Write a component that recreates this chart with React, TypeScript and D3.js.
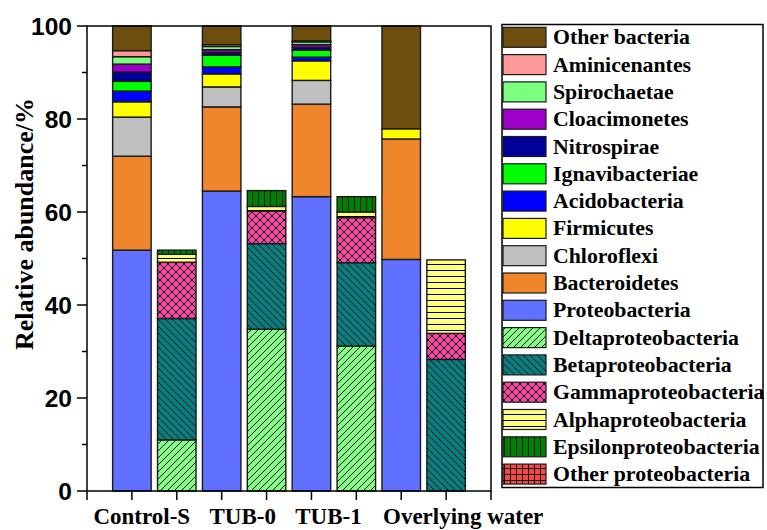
import React from "react";
import * as d3 from "d3";

const groups = ["Control-S", "TUB-0", "TUB-1", "Overlying water"];

// phylum-level composition (bottom to top of stack)
const phyla = [
  "Proteobacteria", "Bacteroidetes", "Chloroflexi", "Firmicutes", "Acidobacteria",
  "Ignavibacteriae", "Nitrospirae", "Cloacimonetes", "Spirochaetae", "Aminicenantes", "Other bacteria",
];
const proteobacteria = [51.8, 64.5, 63.3, 49.8];
const bacteroidetes = [20.2, 18.1, 19.9, 25.9];
const chloroflexi = [8.4, 4.3, 5.1, 0];
const firmicutes = [3.3, 2.8, 4.2, 2.2];
const acidobacteria = [2.3, 1.5, 0.8, 0];
const ignavibacteriae = [2.1, 2.5, 1.5, 0];
const nitrospirae = [2.0, 0.6, 0.6, 0];
const cloacimonetes = [1.7, 0.6, 0.6, 0];
const spirochaetae = [1.6, 0.7, 0.6, 0];
const aminicenantes = [1.3, 0.4, 0.2, 0];
const otherBacteria = [5.3, 4.0, 3.2, 22.1];

// proteobacteria classes (bottom to top of stack)
const classes = [
  "Deltaproteobacteria", "Betaproteobacteria", "Gammaproteobacteria",
  "Alphaproteobacteria", "Epsilonproteobacteria", "Other proteobacteria",
];
const delta = [11.0, 34.8, 31.2, 0];
const beta = [26.1, 18.4, 17.9, 28.3];
const gamma = [12.1, 7.0, 9.7, 5.6];
const alpha = [1.7, 1.0, 1.2, 15.8];
const epsilon = [0.9, 3.4, 3.3, 0];
const otherProteo = [0, 0, 0, 0];

const yTicks = [0, 20, 40, 60, 80, 100];

const phylaValues = [proteobacteria, bacteroidetes, chloroflexi, firmicutes, acidobacteria,
  ignavibacteriae, nitrospirae, cloacimonetes, spirochaetae, aminicenantes, otherBacteria];
const classValues = [delta, beta, gamma, alpha, epsilon, otherProteo];

const phylaColors: Record<string, string> = {
  "Proteobacteria": "#6070FF",
  "Bacteroidetes": "#F0862C",
  "Chloroflexi": "#C0C0C0",
  "Firmicutes": "#FFFF00",
  "Acidobacteria": "#0000FF",
  "Ignavibacteriae": "#00FF00",
  "Nitrospirae": "#000099",
  "Cloacimonetes": "#9E00C8",
  "Spirochaetae": "#7CFF7C",
  "Aminicenantes": "#FF9999",
  "Other bacteria": "#6E4E0E",
};
const classFills: Record<string, string> = {
  "Deltaproteobacteria": "url(#pDelta)",
  "Betaproteobacteria": "url(#pBeta)",
  "Gammaproteobacteria": "url(#pGamma)",
  "Alphaproteobacteria": "url(#pAlpha)",
  "Epsilonproteobacteria": "url(#pEps)",
  "Other proteobacteria": "url(#pOther)",
};

export default function App() {
  const W = 767, H = 530;
  const left = 87, right = 491, top = 26, bottom = 491;
  const x = d3.scaleLinear().domain([0, 9]).range([left, right]);
  const y = d3.scaleLinear().domain([0, 100]).range([bottom, top]);
  const bw = 38.5;

  const phylaRows = groups.map((g, i) => {
    const o: any = { group: g };
    phyla.forEach((p, k) => (o[p] = phylaValues[k][i]));
    return o;
  });
  const classRows = groups.map((g, i) => {
    const o: any = { group: g };
    classes.forEach((c, k) => (o[c] = classValues[k][i]));
    return o;
  });
  const sP = d3.stack().keys(phyla)(phylaRows);
  const sC = d3.stack().keys(classes)(classRows);

  const serif = "'Liberation Serif', 'Times New Roman', serif";
  const sans = "'Liberation Sans', Arial, sans-serif";
  const stroke = "#1a1a1a";

  const legendItems = [
    ...phyla.slice().reverse().map((p) => ({ name: p, fill: phylaColors[p] })),
    ...classes.map((c) => ({ name: c, fill: classFills[c] })),
  ];
  const labelX = [1.22, 3.47, 5.38, 8.38];
  const minor = d3.range(10, 100, 20);

  return (
    <svg width={W} height={H} style={{ position: "absolute", left: 0, top: 0 }}>
      <defs>
        <pattern id="pDelta" patternUnits="userSpaceOnUse" width="7" height="7">
          <rect width="7" height="7" fill="#80FF80" />
          <path d="M0,7 L7,0 M-1,1 L1,-1 M6,8 L8,6" stroke="#000" strokeWidth="1" />
        </pattern>
        <pattern id="pBeta" patternUnits="userSpaceOnUse" width="7" height="7">
          <rect width="7" height="7" fill="#008080" />
          <path d="M0,0 L7,7 M-1,6 L1,8 M6,-1 L8,1" stroke="#000" strokeWidth="1" />
        </pattern>
        <pattern id="pGamma" patternUnits="userSpaceOnUse" width="8" height="8">
          <rect width="8" height="8" fill="#FF44AA" />
          <path d="M0,0 L8,8 M0,8 L8,0" stroke="#000" strokeWidth="1" />
        </pattern>
        <pattern id="pAlpha" patternUnits="userSpaceOnUse" width="6" height="6">
          <rect width="6" height="6" fill="#FFFF80" />
          <path d="M0,0.5 L6,0.5" stroke="#000" strokeWidth="1" />
        </pattern>
        <pattern id="pEps" patternUnits="userSpaceOnUse" width="6" height="6">
          <rect width="6" height="6" fill="#008000" />
          <path d="M0.5,0 L0.5,6" stroke="#002000" strokeWidth="1" />
        </pattern>
        <pattern id="pOther" patternUnits="userSpaceOnUse" width="6" height="6">
          <rect width="6" height="6" fill="#FF4444" />
          <path d="M0.5,0 L0.5,6 M0,0.5 L6,0.5" stroke="#000" strokeWidth="1" />
        </pattern>
      </defs>

      {/* phylum bars */}
      {sP.map((layer) =>
        layer.map((d, i) => {
          const h = y(d[0]) - y(d[1]);
          if (h <= 0) return null;
          return (
            <rect key={layer.key + i} x={x(1 + 2 * i) - bw / 2} y={y(d[1])} width={bw} height={h}
              fill={phylaColors[layer.key]} stroke={stroke} strokeWidth={1.4} />
          );
        })
      )}
      {/* class bars */}
      {sC.map((layer) =>
        layer.map((d, i) => {
          const h = y(d[0]) - y(d[1]);
          if (h <= 0) return null;
          return (
            <rect key={layer.key + i} x={x(2 + 2 * i) - bw / 2} y={y(d[1])} width={bw} height={h}
              fill={classFills[layer.key]} stroke={stroke} strokeWidth={1.4} />
          );
        })
      )}

      {/* frame */}
      <rect x={left} y={top} width={right - left} height={bottom - top} fill="none" stroke="#000" strokeWidth={1.5} />

      {/* y ticks */}
      {yTicks.map((t) => (
        <g key={"y" + t}>
          <line x1={left - 10} x2={left} y1={y(t)} y2={y(t)} stroke="#000" strokeWidth={1.5} />
          <text x={left - 15} y={y(t) + 8.5} textAnchor="end" fontFamily={sans} fontWeight="bold" fontSize={24.5}>{t}</text>
        </g>
      ))}
      {minor.map((t) => (
        <line key={"m" + t} x1={left - 5} x2={left} y1={y(t)} y2={y(t)} stroke="#000" strokeWidth={1.5} />
      ))}
      {/* x ticks */}
      {d3.range(0, 10).map((t) => (
        <line key={"x" + t} x1={x(t)} x2={x(t)} y1={bottom} y2={bottom + 9} stroke="#000" strokeWidth={1.5} />
      ))}
      {groups.map((g, i) => (
        <text key={g} x={x(labelX[i])} y={524} textAnchor="middle" fontFamily={serif} fontWeight="bold" fontSize={23}>{g}</text>
      ))}

      <text transform={`translate(33,224) rotate(-90)`} textAnchor="middle"
        fontFamily={serif} fontWeight="bold" fontSize={26}>Relative abundance/%</text>

      {/* legend */}
      <rect x={502} y={24.5} width={261} height={463} fill="#fff" stroke="#000" strokeWidth={1.5} />
      {legendItems.map((it, i) => {
        const yy = 27.3 + i * 27.3;
        return (
          <g key={it.name}>
            <rect x={503} y={yy} width={43} height={20} fill={it.fill} stroke={stroke} strokeWidth={1.2} />
            <text x={553} y={yy + 17} fontFamily={serif} fontWeight="bold" fontSize={21.8}>{it.name}</text>
          </g>
        );
      })}
    </svg>
  );
}
